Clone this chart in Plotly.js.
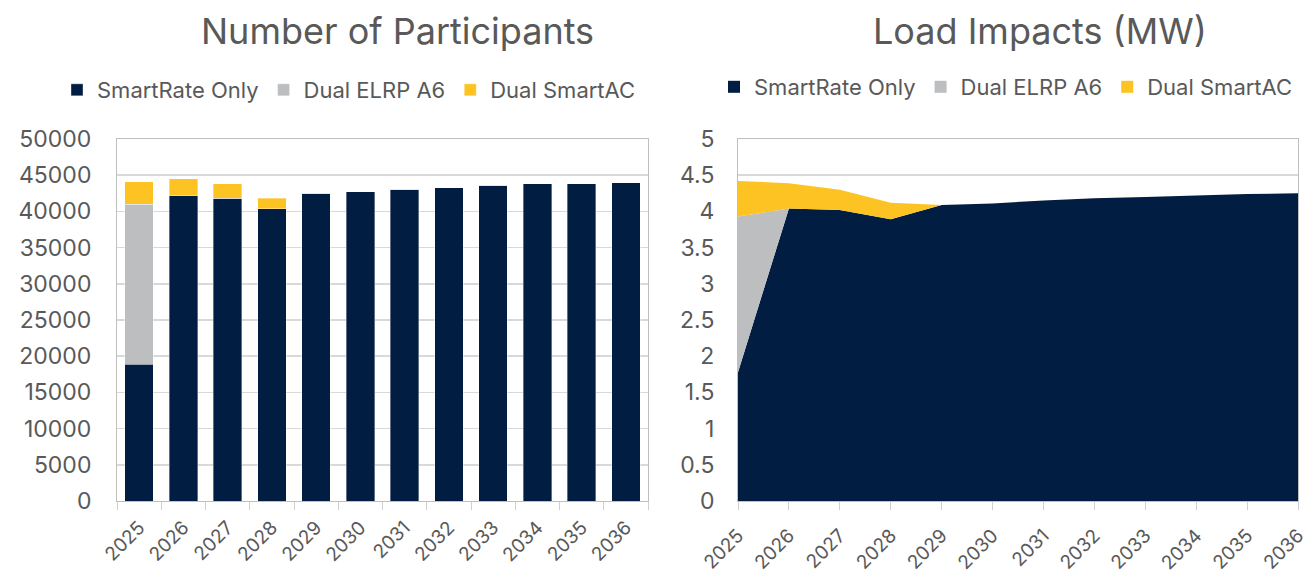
<!DOCTYPE html>
<html>
<head>
<meta charset="utf-8">
<script src="https://cdn.plot.ly/plotly-3.0.1.min.js"></script>
<style>html,body{margin:0;padding:0;background:#fff;}#chart{width:1306px;height:578px;}</style>
</head>
<body>
<div id="chart"></div>
<script>
// Categories
var years = ["2025","2026","2027","2028","2029","2030","2031","2032","2033","2034","2035","2036"];

// Number of Participants (stacked bars)
var partSmartRate = [18900, 42200, 41800, 40400, 42500, 42700, 43050, 43250, 43600, 43800, 43800, 43950];
var partElrp      = [22100, 0, 0, 0, 0, 0, 0, 0, 0, 0, 0, 0];
var partSmartAC   = [3100, 2300, 2000, 1400, 0, 0, 0, 0, 0, 0, 0, 0];

// Load Impacts (MW) (stacked areas)
var loadSmartRate = [1.78, 4.04, 4.02, 3.89, 4.09, 4.11, 4.15, 4.18, 4.20, 4.22, 4.24, 4.25];
var loadElrp      = [2.15, 0, 0, 0, 0, 0, 0, 0, 0, 0, 0, 0];
var loadSmartAC   = [0.49, 0.35, 0.28, 0.23, 0, 0, 0, 0, 0, 0, 0, 0];

var seriesNames = ["SmartRate Only", "Dual ELRP A6", "Dual SmartAC"];
var colors = ["#021D42", "#BCBEC0", "#FDC322"];

var FONT = "Inter, Lato, sans-serif";
var TXT = "#595959";

var traces = [];
var partVals = [partSmartRate, partElrp, partSmartAC];
var loadVals = [loadSmartRate, loadElrp, loadSmartAC];
for (var i = 0; i < 3; i++) {
  traces.push({
    type: "bar", x: years, y: partVals[i], name: seriesNames[i],
    marker: {color: colors[i], line: {color: "rgba(255,255,255,0.6)", width: 0.6}},
    xaxis: "x", yaxis: "y", legend: "legend"
  });
}
for (var j = 0; j < 3; j++) {
  traces.push({
    type: "scatter", mode: "none", x: years, y: loadVals[j], name: seriesNames[j],
    stackgroup: "load", fillcolor: colors[j], line: {width: 0},
    xaxis: "x2", yaxis: "y2", showlegend: false
  });
}
// legend-only entries (square swatches) for the area chart: no drawable values
for (var k = 0; k < 3; k++) {
  traces.push({
    type: "bar", x: [null], y: [null], name: seriesNames[k],
    marker: {color: colors[k]}, xaxis: "x2", yaxis: "y2", legend: "legend2", showlegend: true
  });
}

var W = 1306, H = 578;
var yDom = [1 - 501 / H, 1 - 139 / H];

var axisCommon = {
  showline: true, mirror: true, linecolor: "#BFBFBF", linewidth: 1, automargin: false,
  tickfont: {family: FONT, size: 23, color: TXT}, fixedrange: true
};
var xTickFont = {family: FONT, size: 19, color: TXT};

var legendCommon = {
  orientation: "h", yanchor: "middle", traceorder: "normal",
  font: {family: FONT, size: 22, color: TXT}, bgcolor: "rgba(0,0,0,0)",
  itemwidth: 30, tracegroupgap: 0
};

var layout = {
  width: W, height: H,
  margin: {l: 0, r: 0, t: 0, b: 0, autoexpand: false},
  paper_bgcolor: "#fff", plot_bgcolor: "#fff",
  barmode: "stack", bargap: 0.36,
  font: {family: FONT, color: TXT},
  showlegend: true,
  xaxis: Object.assign({}, axisCommon, {
    domain: [117 / W, 648 / W], anchor: "y", type: "category", tickfont: xTickFont,
    tickangle: -45, ticks: "outside", ticklen: 8, tickcolor: "#D0D0D0",
    tickson: "boundaries", showgrid: false, ticklabelstandoff: 7
  }),
  yaxis: Object.assign({}, axisCommon, {
    domain: yDom, anchor: "x", range: [0, 50000], dtick: 5000, tickformat: "d",
    showgrid: true, gridcolor: "#D9D9D9", gridwidth: 1.5, ticks: "", ticklabelstandoff: 20,
    zeroline: false
  }),
  xaxis2: Object.assign({}, axisCommon, {
    domain: [738 / W, 1298 / W], anchor: "y2", type: "category", tickfont: xTickFont,
    range: [0, 11], tickangle: -45, ticks: "outside", ticklen: 8, tickcolor: "#D0D0D0",
    showgrid: false, ticklabelstandoff: 7
  }),
  yaxis2: Object.assign({}, axisCommon, {
    domain: yDom, anchor: "x2", range: [0, 5], dtick: 0.5,
    showgrid: true, gridcolor: "#D9D9D9", gridwidth: 1.5, ticks: "", ticklabelstandoff: 18,
    zeroline: false
  }),
  legend: Object.assign({}, legendCommon, {x: 57 / W, xanchor: "left", y: 1 - 90 / H}),
  legend2: Object.assign({}, legendCommon, {x: 714 / W, xanchor: "left", y: 1 - 87 / H}),
  annotations: [
    {text: "Number of Participants", xref: "paper", yref: "paper", x: 397 / W, y: 1 - 31 / H,
     xanchor: "center", yanchor: "middle", showarrow: false, font: {family: FONT, size: 36, color: TXT}},
    {text: "Load Impacts (MW)", xref: "paper", yref: "paper", x: 1040 / W, y: 1 - 31 / H,
     xanchor: "center", yanchor: "middle", showarrow: false, font: {family: FONT, size: 36, color: TXT}}
  ]
};

Plotly.newPlot("chart", traces, layout, {displayModeBar: false, staticPlot: true});
</script>
</body>
</html>
